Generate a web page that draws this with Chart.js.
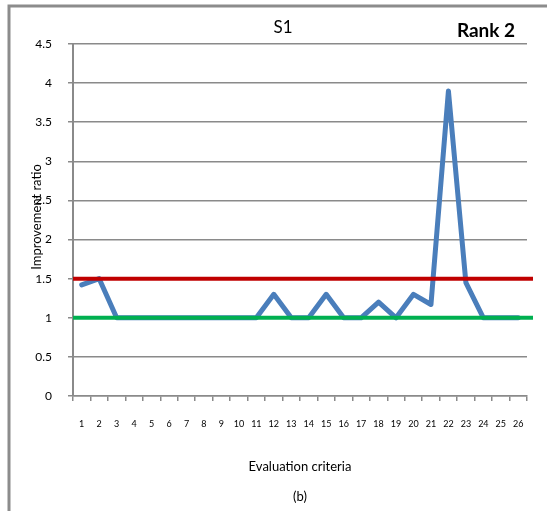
<!DOCTYPE html>
<html>
<head>
<meta charset="utf-8">
<title>S1 improvement ratio</title>
<script src="https://cdn.jsdelivr.net/npm/chart.js@4.4.1/dist/chart.umd.min.js"></script>
<style>
  html, body { margin: 0; padding: 0; background: #ffffff; }
  canvas { display: block; }
</style>
</head>
<body>
<canvas id="chart" width="547" height="511"></canvas>
<script>
// Evaluation criteria 1..26
const criteria = ['1','2','3','4','5','6','7','8','9','10','11','12','13',
                  '14','15','16','17','18','19','20','21','22','23','24','25','26'];

// Improvement ratio of S1 for each criterion
const improvementRatio = [1.42, 1.5, 1, 1, 1, 1, 1, 1, 1, 1, 1, 1.3, 1,
                          1, 1.3, 1, 1, 1.2, 1, 1.3, 1.17, 3.9, 1.45, 1, 1, 1];

// Reference levels drawn across the plot
const upperLevel = [1.5];
const lowerLevel = [1];

const chartTitle = 'S1';
const rankLabel = 'Rank 2';
const yAxisTitle = 'Improvement ratio';
const xAxisTitle = 'Evaluation criteria';
const caption = '(b)';

const FONT = 'Lato, "Open Sans", "Liberation Sans", sans-serif';

// Frame, titles, caption and the horizontal level lines
const decorations = {
  id: 'decorations',
  beforeDraw(chart) {
    const ctx = chart.ctx;
    ctx.save();
    ctx.fillStyle = '#ffffff';
    ctx.fillRect(0, 0, chart.width, chart.height);
    ctx.strokeStyle = '#8c8c8c';
    ctx.lineWidth = 3;
    ctx.beginPath();
    ctx.moveTo(9, chart.height);
    ctx.lineTo(9, 6);
    ctx.lineTo(chart.width, 6);
    ctx.stroke();
    ctx.restore();
  },
  afterDatasetsDraw(chart) {
    const ctx = chart.ctx;
    const y = chart.scales.y;
    const area = chart.chartArea;
    ctx.save();
    ctx.lineWidth = 4;
    const drawLevel = (v, color) => {
      const py = y.getPixelForValue(v);
      ctx.strokeStyle = color;
      ctx.beginPath();
      ctx.moveTo(area.left, py);
      ctx.lineTo(area.right + 6, py);
      ctx.stroke();
    };
    upperLevel.forEach(v => drawLevel(v, '#c00000'));
    lowerLevel.forEach(v => drawLevel(v, '#00b050'));
    ctx.restore();
  },
  afterDraw(chart) {
    const ctx = chart.ctx;
    const area = chart.chartArea;
    ctx.save();
    ctx.fillStyle = '#000000';
    ctx.textAlign = 'center';
    ctx.textBaseline = 'middle';
    ctx.font = '17px ' + FONT;
    ctx.fillText(chartTitle, 283, 28);
    ctx.font = 'bold 19px ' + FONT;
    ctx.fillText(rankLabel, 486, 31);
    ctx.font = '13px ' + FONT;
    ctx.fillText(caption, (area.left + area.right) / 2, 497);
    ctx.translate(37, (area.top + area.bottom) / 2 - 3);
    ctx.rotate(-Math.PI / 2);
    ctx.fillText(yAxisTitle, 0, 0);
    ctx.restore();
  }
};

new Chart(document.getElementById('chart'), {
  type: 'line',
  data: {
    labels: criteria,
    datasets: [{
      label: chartTitle,
      data: improvementRatio,
      borderColor: '#4a7ebb',
      borderWidth: 5,
      borderJoinStyle: 'round',
      borderCapStyle: 'round',
      pointRadius: 0,
      tension: 0,
      fill: false
    }]
  },
  options: {
    responsive: false,
    animation: false,
    devicePixelRatio: 1,
    layout: { padding: { top: 44, left: 0, right: 20, bottom: 0 } },
    plugins: {
      legend: { display: false },
      title: { display: false },
      tooltip: { enabled: false }
    },
    scales: {
      x: {
        type: 'category',
        offset: true,
        afterFit(scale) { scale.height = 115; },
        grid: {
          offset: true,
          drawOnChartArea: false,
          drawTicks: true,
          tickLength: 5,
          color: '#8a8a8a',
          lineWidth: 1.5
        },
        border: { display: true, color: '#8a8a8a', width: 1.5 },
        ticks: {
          color: '#000000',
          font: { family: FONT, size: 9 },
          padding: 18,
          maxRotation: 0,
          autoSkip: false
        },
        title: {
          display: true,
          text: xAxisTitle,
          color: '#000000',
          font: { family: FONT, size: 13 },
          padding: { top: 0, bottom: 36 }
        }
      },
      y: {
        min: 0,
        max: 4.5,
        afterFit(scale) { scale.width = 73; },
        grid: {
          drawTicks: true,
          tickLength: 5,
          color: '#8a8a8a',
          lineWidth: 1.5
        },
        border: { display: true, color: '#8a8a8a', width: 2 },
        ticks: {
          stepSize: 0.5,
          color: '#000000',
          font: { family: FONT, size: 12 },
          padding: 16,
          callback: (value) => String(value)
        }
      }
    }
  },
  plugins: [decorations]
});
</script>
</body>
</html>
